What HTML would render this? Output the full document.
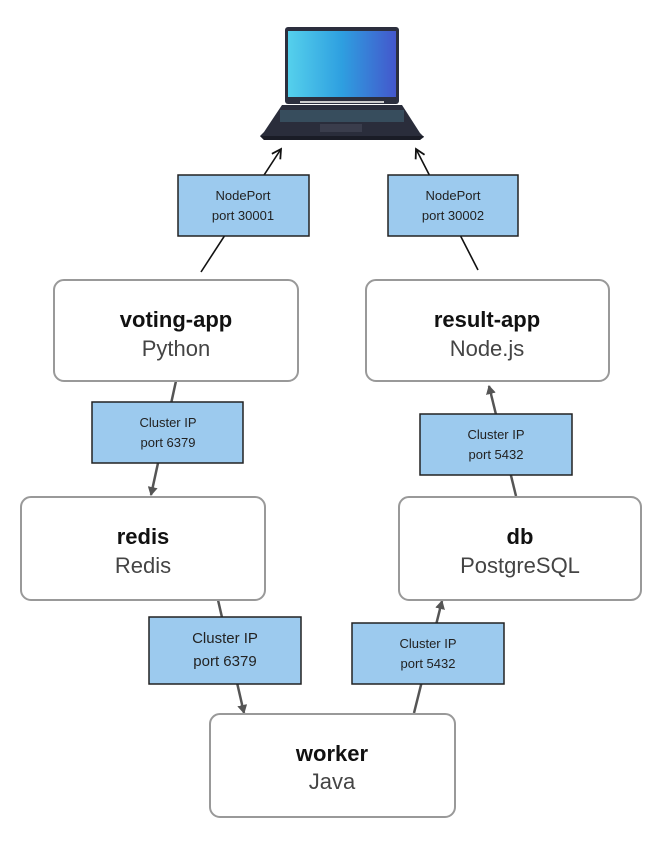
<!DOCTYPE html>
<html><head><meta charset="utf-8"><style>
html,body{margin:0;padding:0;background:#fff;width:666px;height:843px;overflow:hidden}
.b{font-family:"Liberation Sans",sans-serif;font-weight:bold;font-size:22px;fill:#111}
.s{font-family:"Liberation Sans",sans-serif;font-size:22px;fill:#444}
.h{font-family:"Liberation Sans",sans-serif;font-size:13px;fill:#222}
.hl{font-family:"Liberation Sans",sans-serif;font-size:15px;fill:#222}
</style></head><body>
<svg width="666" height="843" viewBox="0 0 666 843" xmlns="http://www.w3.org/2000/svg">
<defs>
<linearGradient id="scr" x1="0" x2="1" y1="0" y2="0"><stop offset="0" stop-color="#55d0ec"/><stop offset="0.5" stop-color="#2e9fe0"/><stop offset="1" stop-color="#4457cc"/></linearGradient>
<marker id="ab" markerWidth="10" markerHeight="10" refX="8" refY="5" orient="auto" markerUnits="userSpaceOnUse"><path d="M0,0 L9,5 L0,10 Z" fill="#555"/></marker>
<marker id="ak" markerWidth="12" markerHeight="12" refX="10" refY="6" orient="auto" markerUnits="userSpaceOnUse"><path d="M1,1 L10,6 L1,11" fill="none" stroke="#111" stroke-width="1.8"/></marker>
</defs>
<rect x="285" y="27" width="114" height="77" rx="3" fill="#2c2f3e"/>
<rect x="288" y="31" width="108" height="66" fill="url(#scr)"/>
<rect x="300" y="101" width="84" height="2" fill="#ccc"/>
<path d="M282,105 L402,105 L420,133 L424,137 L420,140 L264,140 L260,136 L264,132 Z" fill="#2a2d3b"/>
<rect x="280" y="110" width="124" height="12" fill="#3b5566" opacity="0.8"/>
<rect x="320" y="124" width="42" height="8" fill="#3a3d4c"/>
<path d="M260,136 L424,136 L420,140 L264,140 Z" fill="#1a1c26"/>
<line x1="201" y1="272" x2="281" y2="149" stroke="#111" stroke-width="1.6" marker-end="url(#ak)"/>
<line x1="478" y1="270" x2="416" y2="149" stroke="#111" stroke-width="1.6" marker-end="url(#ak)"/>
<line x1="176" y1="381" x2="151" y2="495" stroke="#555" stroke-width="2.5" marker-end="url(#ab)"/>
<line x1="516" y1="496" x2="489" y2="386" stroke="#555" stroke-width="2.5" marker-end="url(#ab)"/>
<line x1="218" y1="600" x2="244" y2="713" stroke="#555" stroke-width="2.5" marker-end="url(#ab)"/>
<line x1="414" y1="713" x2="442" y2="601" stroke="#555" stroke-width="2.5" marker-end="url(#ab)"/>
<g fill="#fff" stroke="#999" stroke-width="2">
<rect x="54" y="280" width="244" height="101" rx="10"/>
<rect x="366" y="280" width="243" height="101" rx="10"/>
<rect x="21" y="497" width="244" height="103" rx="10"/>
<rect x="399" y="497" width="242" height="103" rx="10"/>
<rect x="210" y="714" width="245" height="103" rx="10"/>
</g>
<text x="176" y="327" text-anchor="middle" class="b">voting-app</text>
<text x="176" y="356" text-anchor="middle" class="s">Python</text>
<text x="487" y="327" text-anchor="middle" class="b">result-app</text>
<text x="487" y="356" text-anchor="middle" class="s">Node.js</text>
<text x="143" y="544" text-anchor="middle" class="b">redis</text>
<text x="143" y="573" text-anchor="middle" class="s">Redis</text>
<text x="520" y="544" text-anchor="middle" class="b">db</text>
<text x="520" y="573" text-anchor="middle" class="s">PostgreSQL</text>
<text x="332" y="761" text-anchor="middle" class="b">worker</text>
<text x="332" y="789" text-anchor="middle" class="s">Java</text>
<g fill="#9ccaee" stroke="#222" stroke-width="1.5">
<rect x="178" y="175" width="131" height="61"/>
<rect x="388" y="175" width="130" height="61"/>
<rect x="92" y="402" width="151" height="61"/>
<rect x="420" y="414" width="152" height="61"/>
<rect x="149" y="617" width="152" height="67"/>
<rect x="352" y="623" width="152" height="61"/>
</g>
<text x="243" y="200" text-anchor="middle" class="h">NodePort</text>
<text x="243" y="220" text-anchor="middle" class="h">port 30001</text>
<text x="453" y="200" text-anchor="middle" class="h">NodePort</text>
<text x="453" y="220" text-anchor="middle" class="h">port 30002</text>
<text x="168" y="427" text-anchor="middle" class="h">Cluster IP</text>
<text x="168" y="447" text-anchor="middle" class="h">port 6379</text>
<text x="496" y="439" text-anchor="middle" class="h">Cluster IP</text>
<text x="496" y="459" text-anchor="middle" class="h">port 5432</text>
<text x="225" y="643" text-anchor="middle" class="hl">Cluster IP</text>
<text x="225" y="666" text-anchor="middle" class="hl">port 6379</text>
<text x="428" y="648" text-anchor="middle" class="h">Cluster IP</text>
<text x="428" y="668" text-anchor="middle" class="h">port 5432</text>
</svg>
</body></html>
